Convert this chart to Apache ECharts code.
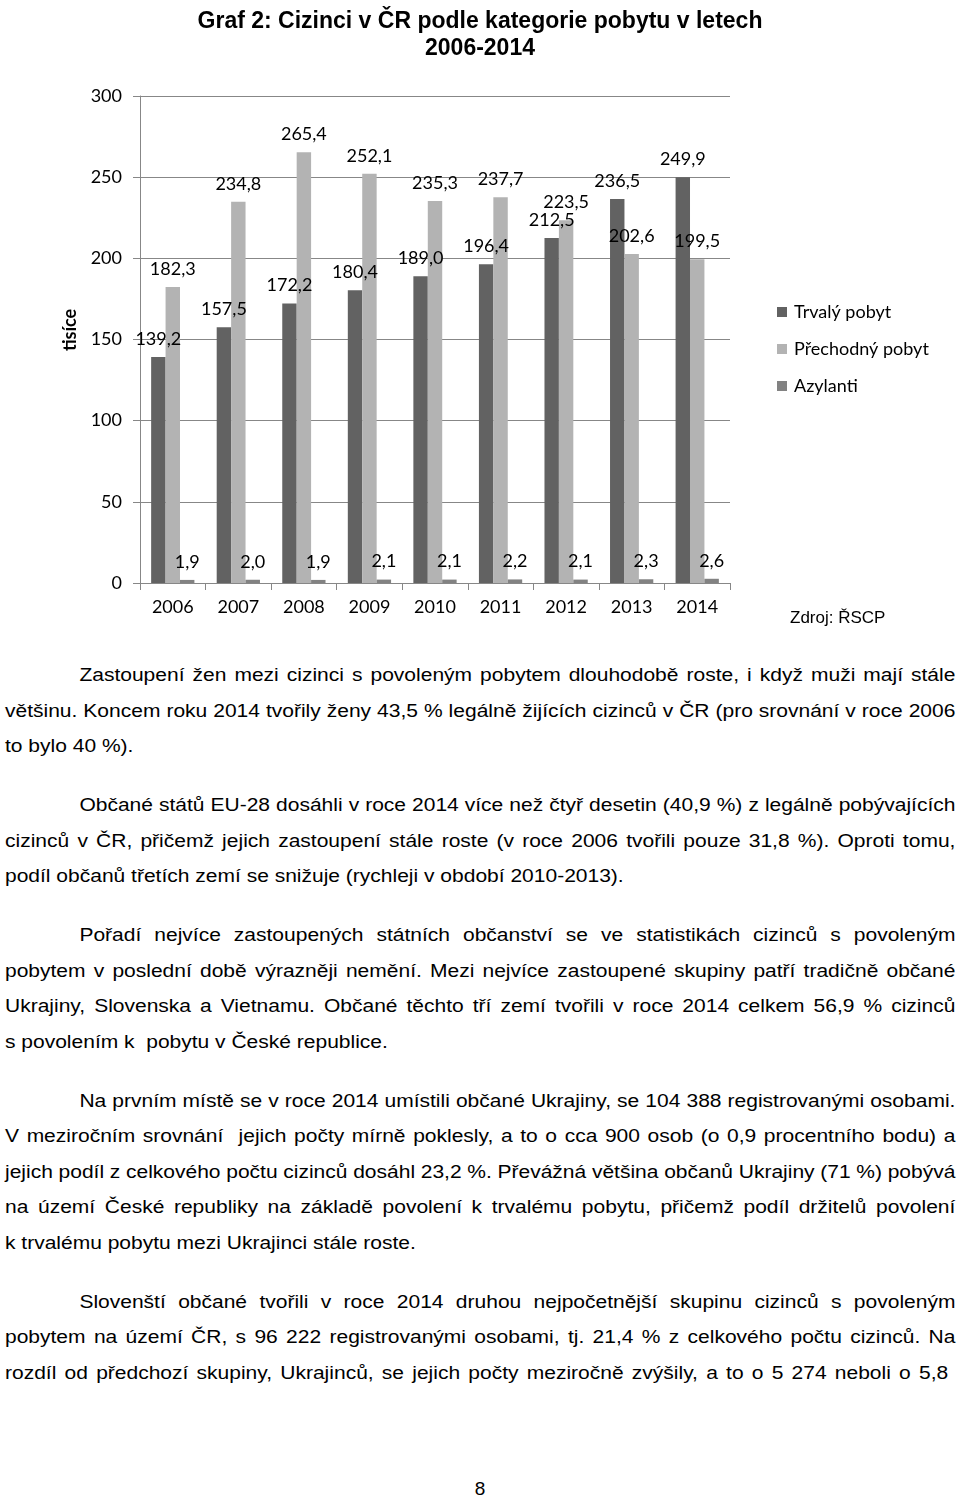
<!DOCTYPE html>
<html>
<head>
<meta charset="utf-8">
<script src="https://cdn.jsdelivr.net/npm/echarts@6/dist/echarts.min.js"></script>
<style>
  html, body { margin: 0; padding: 0; background: #fff; }
  #page { position: relative; width: 960px; height: 1501px; overflow: hidden; }
  #chart { position: absolute; left: 0; top: 0; width: 960px; height: 650px; }
  #text {
    position: absolute; left: 5px; top: 658px; width: 792px;
    transform: scaleX(1.2); transform-origin: 0 0;
    font-family: "Liberation Sans", Arial, sans-serif; font-size: 17.5px; color: #000;
  }
  .p { margin-bottom: 23.5px; }
  .l { height: 35.5px; line-height: 35.5px; white-space: nowrap; }
  .j { text-align: justify; text-align-last: justify; white-space: normal; }
  .tight { word-spacing: -2px; }
  .ind { padding-left: 62px; }
  #pg { position: absolute; left: 0; width: 960px; top: 1478px; text-align: center;
        font-family: "Liberation Sans", Arial, sans-serif; font-size: 19px; }
</style>
</head>
<body>
<div id="page">
  <div id="chart"></div>
  <div id="text">
    <div class="p">
      <div class="l j ind">Zastoupení žen mezi cizinci s povoleným pobytem dlouhodobě roste, i když muži mají stále</div>
      <div class="l j">většinu. Koncem roku 2014 tvořily ženy 43,5 % legálně žijících cizinců v ČR (pro srovnání v roce 2006</div>
      <div class="l">to bylo 40 %).</div>
    </div>
    <div class="p">
      <div class="l j ind">Občané států EU-28 dosáhli v roce 2014 více než čtyř desetin (40,9 %) z legálně pobývajících</div>
      <div class="l j">cizinců v ČR, přičemž jejich zastoupení stále roste (v roce 2006 tvořili pouze 31,8 %). Oproti tomu,</div>
      <div class="l">podíl občanů třetích zemí se snižuje (rychleji v období 2010-2013).</div>
    </div>
    <div class="p">
      <div class="l j ind">Pořadí nejvíce zastoupených státních občanství se ve statistikách cizinců s povoleným</div>
      <div class="l j">pobytem v poslední době výrazněji nemění. Mezi nejvíce zastoupené skupiny patří tradičně občané</div>
      <div class="l j">Ukrajiny, Slovenska a Vietnamu. Občané těchto tří zemí tvořili v roce 2014 celkem 56,9 % cizinců</div>
      <div class="l">s povolením k&nbsp; pobytu v České republice.</div>
    </div>
    <div class="p">
      <div class="l j ind">Na prvním místě se v roce 2014 umístili občané Ukrajiny, se 104 388 registrovanými osobami.</div>
      <div class="l j tight">V meziročním srovnání&nbsp; jejich počty mírně poklesly, a to o cca 900 osob (o 0,9 procentního bodu) a</div>
      <div class="l j tight">jejich podíl z celkového počtu cizinců dosáhl 23,2 %. Převážná většina občanů Ukrajiny (71 %) pobývá</div>
      <div class="l j">na území České republiky na základě povolení k trvalému pobytu, přičemž podíl držitelů povolení</div>
      <div class="l">k trvalému pobytu mezi Ukrajinci stále roste.</div>
    </div>
    <div class="p">
      <div class="l j ind">Slovenští občané tvořili v roce 2014 druhou nejpočetnější skupinu cizinců s povoleným</div>
      <div class="l j">pobytem na území ČR, s 96 222 registrovanými osobami, tj. 21,4 % z celkového počtu cizinců. Na</div>
      <div class="l j tight" style="width:786px">rozdíl od předchozí skupiny, Ukrajinců, se jejich počty meziročně zvýšily, a to o 5 274 neboli o 5,8</div>
    </div>
  </div>
  <div id="pg">8</div>
</div>
<script>
// data z grafu (tisíce)
var years = ['2006', '2007', '2008', '2009', '2010', '2011', '2012', '2013', '2014'];
var trvaly = [139.2, 157.5, 172.2, 180.4, 189.0, 196.4, 212.5, 236.5, 249.9];
var prechodny = [182.3, 234.8, 265.4, 252.1, 235.3, 237.7, 223.5, 202.6, 199.5];
var azylanti = [1.9, 2.0, 1.9, 2.1, 2.1, 2.2, 2.1, 2.3, 2.6];
var seriesNames = ['Trvalý pobyt', 'Přechodný pobyt', 'Azylanti'];
var colors = ['#626262', '#b3b3b3', '#828282'];

var chartFont = 'Lato, "Open Sans", sans-serif';
var gridColor = '#878787';

function fmt(p) {
    return p.value.toFixed(1).replace('.', ',');
}

function makeSeries(name, data) {
    return {
        name: name,
        type: 'bar',
        data: data,
        barGap: '0%',
        barCategoryGap: '34%',
        label: {
            show: true,
            position: 'top',
            distance: 9,
            formatter: fmt,
            fontFamily: chartFont,
            fontSize: 18,
            color: '#000'
        }
    };
}

var myChart = echarts.init(document.getElementById('chart'), null, { renderer: 'canvas' });

var option = {
    animation: false,
    color: colors,
    title: {
        text: 'Graf 2: Cizinci v ČR podle kategorie pobytu v letech\n2006-2014',
        left: 'center',
        top: 3,
        textStyle: {
            fontFamily: '"Liberation Sans", Arial, sans-serif',
            fontWeight: 'bold',
            fontSize: 23,
            lineHeight: 27,
            color: '#000'
        }
    },
    legend: {
        orient: 'vertical',
        left: 772,
        top: 298,
        itemWidth: 10,
        itemHeight: 10,
        itemGap: 19,
        icon: 'rect',
        textStyle: {
            fontFamily: chartFont,
            fontSize: 18,
            color: '#000',
            padding: [0, 0, 0, 2]
        },
        data: seriesNames
    },
    grid: {
        left: 140,
        top: 96,
        width: 590,
        height: 487
    },
    xAxis: {
        type: 'category',
        data: years,
        axisLine: { lineStyle: { color: gridColor, width: 1 } },
        axisTick: { show: true, length: 7, interval: 0, lineStyle: { color: gridColor } },
        axisLabel: {
            margin: 15,
            fontFamily: chartFont,
            fontSize: 18,
            color: '#000'
        }
    },
    yAxis: {
        type: 'value',
        min: 0,
        max: 300,
        interval: 50,
        axisLine: { show: true, lineStyle: { color: gridColor, width: 1 } },
        axisTick: { show: true, length: 7, lineStyle: { color: gridColor } },
        splitLine: { lineStyle: { color: gridColor, width: 1 } },
        axisLabel: {
            margin: 18,
            fontFamily: chartFont,
            fontSize: 18,
            color: '#000'
        }
    },
    graphic: [
        {
            type: 'text',
            x: 70,
            y: 330,
            rotation: Math.PI / 2,
            style: {
                text: 'tisíce',
                fontFamily: chartFont,
                fontWeight: 'bold',
                fontSize: 18,
                fill: '#000',
                align: 'center',
                verticalAlign: 'middle'
            }
        },
        {
            type: 'text',
            x: 790,
            y: 618,
            style: {
                text: 'Zdroj: ŘSCP',
                fontFamily: '"Liberation Sans", Arial, sans-serif',
                fontSize: 17,
                fill: '#000',
                verticalAlign: 'middle'
            }
        }
    ],
    series: [
        makeSeries(seriesNames[0], trvaly),
        makeSeries(seriesNames[1], prechodny),
        makeSeries(seriesNames[2], azylanti)
    ]
};

myChart.setOption(option);
</script>
</body>
</html>
